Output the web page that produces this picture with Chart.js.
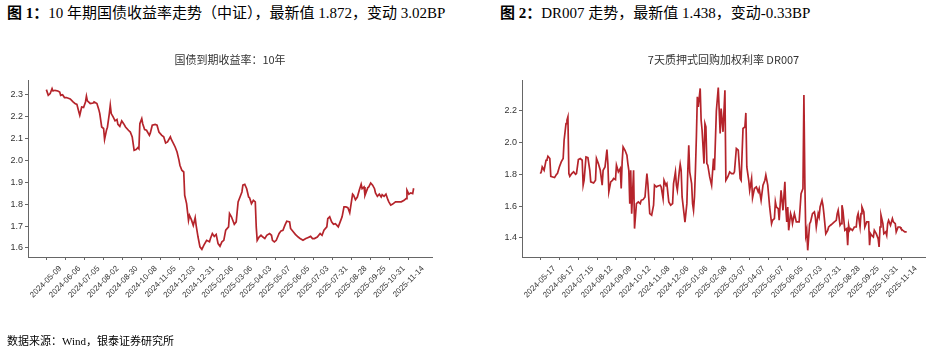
<!DOCTYPE html>
<html>
<head>
<meta charset="utf-8">
<script src="https://cdn.jsdelivr.net/npm/chart.js@4.4.0/dist/chart.umd.min.js"></script>
<style>
    body { margin: 0; width: 936px; height: 351px; background: #fff; position: relative; overflow: hidden;
           font-family: "Liberation Serif", "Noto Sans CJK SC", serif; color: #000; }
    .fig-title { position: absolute; top: 4px; font-size: 15px; line-height: 18px; white-space: nowrap; }
    .fig-title b { font-weight: bold; }
    #t1 { left: 7px; }
    #t2 { left: 500px; }
    .source { position: absolute; left: 7px; top: 334px; font-size: 11px; line-height: 14px; white-space: nowrap; }
    canvas { position: absolute; top: 0; }
    #yieldChart { left: 0; }
    #drChart { left: 470px; }
</style>
</head>
<body>
<div class="fig-title" id="t1"><b>图 1：</b>10 年期国债收益率走势（中证），最新值 1.872，变动 3.02BP</div>
<div class="fig-title" id="t2"><b>图 2：</b>DR007 走势，最新值 1.438，变动-0.33BP</div>
<canvas id="yieldChart" width="460" height="351"></canvas>
<canvas id="drChart" width="466" height="351"></canvas>
<div class="source">数据来源：Wind，银泰证券研究所</div>

<script>
// 10年国债: x = 交易日序号, 每20个交易日一个刻度
const yieldTickLabels = ['2024-05-09','2024-06-06','2024-07-05','2024-08-02','2024-08-30','2024-10-08','2024-11-05',
    '2024-12-03','2024-12-31','2025-02-06','2025-03-06','2025-04-03','2025-05-07','2025-06-05','2025-07-03',
    '2025-07-31','2025-08-28','2025-09-25','2025-10-31','2025-11-14'];
const yieldIdx = [
    0,2,4,6,7,9,12,14,15,17,
    19,21,25,28,30,32,34,35,37,39,
    41,42,43,46,49,50,53,55,56,58,
    60,61,63,64,66,67,68,70,72,74,
    75,77,79,81,83,86,88,90,92,94,
    96,97,98,100,101,103,105,108,109,111,
    114,116,118,121,123,125,127,130,131,133,
    135,137,139,140,142,144,145,147,149,150,
    152,154,156,157,159,161,163,165,168,171,
    172,174,176,178,180,182,184,186,188,191,
    192,194,197,199,201,203,205,206,208,210,
    212,213,215,217,219,220,221,223,225,227,
    229,231,234,236,237,239,241,244,246,248,
    250,252,255,256,259,261,264,266,269,272,
    274,277,279,281,284,287,289,291,294,295,
    297,299,301,303,306,308,310,312,314,316,
    318,320,321,322,324,326,328,330,331,333,
    334,337,338,340,342,344,345,347,349,351,
    352,354,356,358,359,361,363,366,369,372,
    375,377,378,380,382,384,385];
const yieldVal = [
    2.321,2.295,2.303,2.326,2.315,2.318,2.315,2.31,2.295,2.298,
    2.285,2.285,2.279,2.265,2.258,2.254,2.22,2.204,2.242,2.24,
    2.265,2.291,2.27,2.258,2.26,2.265,2.258,2.23,2.212,2.151,
    2.144,2.094,2.136,2.15,2.212,2.25,2.212,2.197,2.179,2.185,
    2.163,2.154,2.179,2.166,2.151,2.136,2.128,2.106,2.045,2.048,
    2.057,2.052,2.166,2.189,2.166,2.139,2.136,2.113,2.124,2.159,
    2.163,2.159,2.128,2.113,2.106,2.078,2.083,2.106,2.094,2.078,
    2.06,2.037,2.0,1.977,1.954,1.946,1.84,1.802,1.726,1.749,
    1.729,1.703,1.738,1.703,1.65,1.605,1.594,1.612,1.635,1.628,
    1.643,1.666,1.653,1.662,1.62,1.608,1.628,1.635,1.681,1.696,
    1.757,1.742,1.708,1.719,1.81,1.832,1.855,1.886,1.89,1.87,
    1.832,1.829,1.802,1.817,1.81,1.696,1.635,1.65,1.658,1.65,
    1.643,1.658,1.666,1.658,1.635,1.628,1.635,1.666,1.678,1.681,
    1.703,1.722,1.719,1.689,1.673,1.662,1.65,1.643,1.635,1.643,
    1.647,1.653,1.643,1.643,1.65,1.666,1.658,1.681,1.696,1.734,
    1.742,1.719,1.708,1.711,1.696,1.719,1.742,1.787,1.787,1.784,
    1.76,1.817,1.845,1.84,1.82,1.832,1.863,1.89,1.87,1.878,
    1.84,1.875,1.878,1.896,1.886,1.87,1.851,1.835,1.845,1.832,
    1.843,1.835,1.845,1.82,1.81,1.795,1.8,1.81,1.81,1.81,
    1.817,1.825,1.863,1.845,1.851,1.848,1.872];
const yieldTicks = [1.6, 1.7, 1.8, 1.9, 2.0, 2.1, 2.2, 2.3];

// DR007
const drTickLabels = ['2024-05-17','2024-06-17','2024-07-15','2024-08-12','2024-09-09','2024-10-12','2024-11-08',
    '2024-12-06','2025-01-06','2025-02-08','2025-03-07','2025-04-07','2025-05-07','2025-06-05','2025-07-03',
    '2025-07-31','2025-08-28','2025-09-25','2025-10-31','2025-11-14'];
const drIdx = [
    0,1,2,3,4,6,7,8,10,11,
    13,15,17,18,20,22,24,25,27,28,
    29,30,31,33,35,37,38,40,42,44,
    45,46,48,50,52,53,56,58,59,61,
    63,65,66,68,70,71,72,74,76,77,
    79,80,82,84,85,86,87,89,91,92,
    93,94,95,96,98,99,101,103,105,106,
    108,110,111,112,113,115,117,119,120,122,
    123,126,127,129,130,132,133,135,137,139,
    140,142,143,144,146,147,148,149,151,152,
    154,155,156,157,159,160,161,162,163,164,
    165,166,168,169,170,172,173,174,175,176,
    178,180,182,183,185,187,189,190,192,194,
    195,197,199,201,203,204,206,208,210,211,
    213,215,216,217,219,220,222,223,225,227,
    229,230,232,234,236,237,239,241,243,244,
    246,247,248,250,251,253,255,257,258,259,
    260,261,263,264,265,267,269,271,272,274,
    276,277,278,279,280,281,283,284,286,288,
    289,290,292,293,294,296,297,298,300,302,
    303,305,307,309,311,312,313,315,316,317,
    318,320,322,323,324,325,326,328,330,332,
    333,334,336,337,338,340,341,343,345,346,
    347,348,350,351,353,355,356,357,358,360,
    361,363,364,365,366,368,370,371,373,374,
    376,378,379,381,383,385];
const drVal = [
    1.805,1.816,1.847,1.837,1.826,1.889,1.893,1.914,1.9,1.788,
    1.784,1.78,1.8,1.805,1.847,1.879,1.9,2.015,2.12,2.141,
    2.162,1.805,1.788,1.805,1.816,1.8,1.805,1.893,1.9,1.889,
    1.732,1.763,1.91,1.906,1.826,1.753,1.746,1.763,1.9,1.868,
    1.826,1.732,1.826,1.847,1.956,1.868,1.69,1.753,1.763,1.774,
    1.767,1.858,1.816,1.837,1.711,1.879,1.973,1.952,1.921,1.868,
    1.826,1.616,1.826,1.553,1.826,1.459,1.616,1.627,1.616,1.637,
    1.641,1.658,1.732,1.805,1.742,1.553,1.543,1.606,1.732,1.721,
    1.725,1.732,1.721,1.648,1.763,1.732,1.742,1.627,1.606,1.616,
    1.742,1.816,1.732,1.7,1.816,1.864,1.826,1.658,1.553,1.5,
    1.616,1.826,1.984,1.816,1.742,1.616,1.574,1.658,1.826,2.036,
    2.288,2.225,2.341,2.141,2.078,1.868,2.12,2.099,1.868,1.858,
    1.784,1.732,1.9,1.826,2.2,2.347,2.057,2.215,2.068,2.33,
    1.763,1.784,1.816,1.805,1.805,1.816,1.963,1.952,1.774,1.763,
    2.089,2.099,2.187,1.847,1.763,1.7,1.774,1.652,1.711,1.721,
    1.69,1.711,1.637,1.732,1.763,1.795,1.732,1.595,1.49,1.511,
    1.522,1.627,1.595,1.585,1.511,1.7,1.574,1.753,1.585,1.501,
    1.595,1.448,1.553,1.532,1.49,1.553,1.501,1.501,1.501,1.679,
    1.711,2.299,1.742,1.417,1.448,1.322,1.49,1.501,1.553,1.564,
    1.532,1.469,1.553,1.532,1.595,1.637,1.606,1.553,1.427,1.448,
    1.469,1.48,1.49,1.501,1.511,1.553,1.574,1.48,1.49,1.606,
    1.574,1.448,1.459,1.354,1.48,1.448,1.459,1.448,1.469,1.469,
    1.532,1.553,1.469,1.553,1.595,1.564,1.469,1.501,1.501,1.354,
    1.427,1.417,1.406,1.448,1.427,1.396,1.343,1.469,1.543,1.49,
    1.427,1.438,1.417,1.49,1.511,1.48,1.522,1.501,1.49,1.438,
    1.469,1.469,1.459,1.448,1.438,1.438];
const drTicks = [1.4, 1.6, 1.8, 2.0, 2.2];

const LINE_RED = '#b5242b';
const AXIS_GREY = '#666';
const TICK_FONT = 'Liberation Sans';

function buildChart(canvasId, title, idx, vals, tickLabels, yTicks, yMin, yMax, padLeft, padRight) {
    const ctx = document.getElementById(canvasId).getContext('2d');
    return new Chart(ctx, {
        type: 'line',
        data: {
            datasets: [{
                data: idx.map((x, k) => ({ x: x, y: vals[k] })),
                borderColor: LINE_RED,
                borderWidth: 1.7,
                pointRadius: 0,
                tension: 0,
                fill: false
            }]
        },
        options: {
            responsive: false,
            animation: false,
            layout: { padding: { left: padLeft, right: padRight, top: 0, bottom: 0 } },
            plugins: {
                legend: { display: false },
                tooltip: { enabled: false },
                title: {
                    display: true,
                    text: title,
                    fullSize: false,
                    color: '#333',
                    font: { family: 'Noto Sans CJK SC', size: 11, weight: 'normal', lineHeight: 1.2 },
                    padding: { top: 53, bottom: 14 }
                }
            },
            scales: {
                x: {
                    type: 'linear',
                    min: -19.25,
                    max: 404.25,
                    afterBuildTicks: (s) => { s.ticks = tickLabels.map((_, k) => ({ value: k * 20 })); },
                    afterFit: (s) => { s.height = 94; },
                    grid: { drawOnChartArea: false, color: AXIS_GREY, tickLength: 3 },
                    border: { color: AXIS_GREY },
                    ticks: {
                        autoSkip: false, minRotation: 45, maxRotation: 45,
                        labelOffset: 14, padding: 4, color: '#333',
                        font: { family: TICK_FONT, size: 8 },
                        callback: (v) => tickLabels[Math.round(v / 20)]
                    }
                },
                y: {
                    min: yMin,
                    max: yMax,
                    afterBuildTicks: (s) => { s.ticks = yTicks.map(v => ({ value: v })); },
                    afterFit: (s) => { s.width = 28; },
                    grid: { drawOnChartArea: false, color: AXIS_GREY, tickLength: 3 },
                    border: { color: AXIS_GREY },
                    ticks: {
                        padding: 2, color: '#333',
                        font: { family: TICK_FONT, size: 9 },
                        callback: (v) => Number(v).toFixed(1)
                    }
                }
            }
        }
    });
}

document.addEventListener('DOMContentLoaded', () => {
    // 1. 国债收益率
    buildChart('yieldChart', '国债到期收益率：10年', yieldIdx, yieldVal, yieldTickLabels,
        yieldTicks, 1.559, 2.364, 0, 28);

    // 2. DR007
    buildChart('drChart', '7天质押式回购加权利率 DR007', drIdx, drVal, drTickLabels,
        drTicks, 1.28, 2.393, 24, 11);
});
</script>
</body>
</html>
